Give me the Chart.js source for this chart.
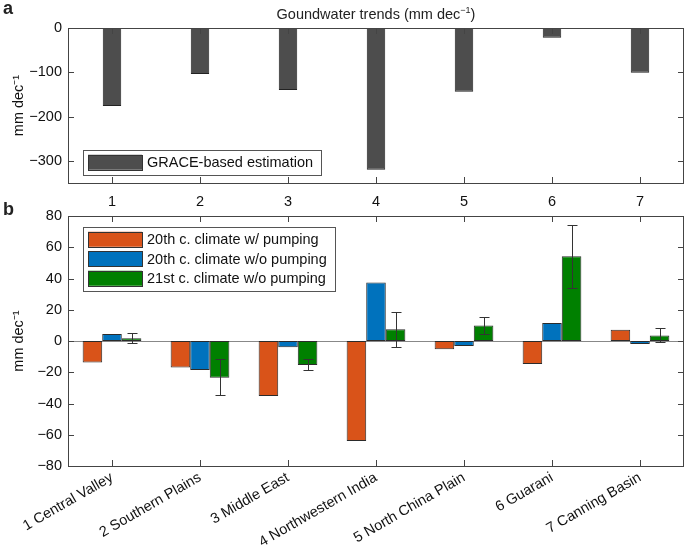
<!DOCTYPE html>
<html>
<head>
<meta charset="utf-8">
<script src="https://cdn.jsdelivr.net/npm/chart.js@4.4.0/dist/chart.umd.min.js"></script>
<style>
  body { margin: 0; background: #fff; }
  #wrap { position: relative; width: 685px; height: 545px; background: #fff; font-family: "Liberation Sans", Arial, sans-serif; color: #222; }
  canvas { position: absolute; left: 0; }
  .tag { position: absolute; font-weight: bold; font-size: 18px; left: 3px; }
  #title { position: absolute; top: 5px; left: 276px; width: 200px; text-align: center; font-size: 14.5px; white-space: nowrap; }
</style>
</head>
<body>
<div id="wrap">
  <canvas id="chart-a" width="685" height="215" style="top:0"></canvas>
  <canvas id="chart-b" width="685" height="355" style="top:190px"></canvas>
  <div class="tag" style="top:-2px">a</div>
  <div class="tag" style="top:199px">b</div>
  <div id="title">Goundwater trends (mm dec<sup style="font-size:9px">−1</sup>)</div>
</div>
<script>
// -------- DATA -------- //
const regions = ["1 Central Valley", "2 Southern Plains", "3 Middle East", "4 Northwestern India",
  "5 North China Plain", "6 Guarani", "7 Canning Basin"];
const regionNums = ["1", "2", "3", "4", "5", "6", "7"];

const grace = [-176, -104, -140, -320, -144, -22, -101];

const withPumping20 = [-13.7, -16.9, -35.2, -64, -5.3, -14.7, 7.2];
const noPumping20 = [4.5, -18.6, -4, 37.5, -3.2, 11.5, -1.9];
const noPumping21 = [1.7, -23.5, -15.4, 7.5, 10, 54.2, 3.6];
const errHigh21 = [5.3, -11.7, -11.7, 18.4, 15.6, 74.4, 8.1];
const errLow21 = [-1.5, -34.8, -18.8, -3.6, 4.5, 34.1, -0.8];

const yTicksA = [-300, -200, -100, 0];
const yTicksB = [-80, -60, -40, -20, 0, 20, 40, 60, 80];

const FONT = { family: "'Liberation Sans', Arial, sans-serif", size: 14.5 };
const minus = v => String(v).replace('-', '\u2212');

// -------- PLUGINS -------- //
// box round the plot area, with inward tick marks on all four sides
const frame = {
  id: 'frame',
  beforeDatasetsDraw(chart, args, opts) {
    if (!opts.baseline) return;
    const ctx = chart.ctx, a = chart.chartArea;
    const y0 = chart.scales.y.getPixelForValue(0);
    ctx.save();
    ctx.strokeStyle = '#888';
    ctx.lineWidth = 1;
    ctx.beginPath();
    ctx.moveTo(a.left, Math.round(y0) + 0.5);
    ctx.lineTo(a.right, Math.round(y0) + 0.5);
    ctx.stroke();
    ctx.restore();
  },
  afterDatasetsDraw(chart) {
    const ctx = chart.ctx, a = chart.chartArea;
    const xs = chart.scales.x, ys = chart.scales.y;
    const len = 6;
    ctx.save();
    ctx.strokeStyle = '#444';
    ctx.lineWidth = 1;
    ctx.beginPath();
    xs.ticks.forEach((t, i) => {
      const x = Math.round(xs.getPixelForTick(i)) + 0.5;
      ctx.moveTo(x, a.bottom); ctx.lineTo(x, a.bottom - len);
      ctx.moveTo(x, a.top); ctx.lineTo(x, a.top + len);
    });
    ys.ticks.forEach((t, i) => {
      const y = Math.round(ys.getPixelForTick(i)) + 0.5;
      ctx.moveTo(a.left, y); ctx.lineTo(a.left + len, y);
      ctx.moveTo(a.right, y); ctx.lineTo(a.right - len, y);
    });
    ctx.stroke();
    ctx.strokeRect(Math.round(a.left) + 0.5, Math.round(a.top) + 0.5,
      Math.round(a.right - a.left) - 1, Math.round(a.bottom - a.top));
    ctx.restore();
  }
};

// error bars on one dataset
const errorBars = {
  id: 'errorBars',
  afterDatasetsDraw(chart, args, opts) {
    if (!opts.low) return;
    const ctx = chart.ctx, ys = chart.scales.y;
    const meta = chart.getDatasetMeta(opts.dataset);
    ctx.save();
    ctx.strokeStyle = '#333';
    ctx.lineWidth = 1;
    ctx.beginPath();
    meta.data.forEach((bar, i) => {
      const x = Math.round(bar.x) + 0.5;
      const yh = Math.round(ys.getPixelForValue(opts.high[i])) + 0.5;
      const yl = Math.round(ys.getPixelForValue(opts.low[i])) + 0.5;
      ctx.moveTo(x, yh); ctx.lineTo(x, yl);
      ctx.moveTo(x - 5, yh); ctx.lineTo(x + 5, yh);
      ctx.moveTo(x - 5, yl); ctx.lineTo(x + 5, yl);
    });
    ctx.stroke();
    ctx.restore();
  }
};

// legend box drawn inside the plot area
const boxLegend = {
  id: 'boxLegend',
  afterDraw(chart, args, opts) {
    const ctx = chart.ctx, a = chart.chartArea;
    const sets = chart.data.datasets;
    ctx.save();
    ctx.font = FONT.size + 'px ' + FONT.family;
    const tw = Math.max(...sets.map(d => ctx.measureText(d.label).width));
    const x = a.left + opts.x, y = a.top + opts.y;
    const rowH = 19.5;
    const w = 64 + tw + 8, h = sets.length * rowH + 5;
    ctx.fillStyle = '#fff';
    ctx.fillRect(x, y, w, h);
    ctx.strokeStyle = '#555';
    ctx.lineWidth = 1;
    ctx.strokeRect(Math.round(x) + 0.5, Math.round(y) + 0.5, Math.round(w), Math.round(h));
    sets.forEach((d, i) => {
      const cy = y + 2.5 + rowH * (i + 0.5);
      ctx.fillStyle = d.backgroundColor;
      ctx.fillRect(x + 5, cy - 7.5, 54, 15);
      ctx.strokeStyle = '#333';
      ctx.strokeRect(Math.round(x + 5) + 0.5, Math.round(cy - 7.5) + 0.5, 54, 15);
      ctx.fillStyle = '#111';
      ctx.textBaseline = 'middle';
      ctx.fillText(d.label, x + 64, cy + 1);
    });
    ctx.restore();
  }
};

Chart.register(frame, errorBars, boxLegend);

function yScale(min, max, ticks) {
  return {
    min: min,
    max: max,
    border: { display: false },
    grid: { display: false, drawTicks: false },
    afterBuildTicks: s => { s.ticks = ticks.map(v => ({ value: v })); },
    afterFit: s => { s.width = 68; },
    ticks: { font: FONT, color: '#111', padding: 6, callback: minus },
    title: { display: true, text: 'mm dec\u207B\u00B9', font: FONT, color: '#111', padding: { top: 10, bottom: 0 } }
  };
}

// -------- PANEL A -------- //
new Chart(document.getElementById('chart-a'), {
  type: 'bar',
  data: {
    labels: regionNums,
    datasets: [{
      label: 'GRACE-based estimation',
      data: grace,
      backgroundColor: '#4d4d4d',
      borderColor: '#222',
      borderWidth: 1,
      borderSkipped: false,
      barPercentage: 0.21,
      categoryPercentage: 1
    }]
  },
  options: {
    responsive: false,
    animation: false,
    layout: { padding: { top: 28, right: 1, left: 0, bottom: 0 } },
    scales: {
      x: {
        border: { display: false },
        grid: { display: false, drawTicks: false },
        afterFit: s => { s.height = 32; },
        ticks: { font: FONT, color: '#111', padding: 10, maxRotation: 0 }
      },
      y: yScale(-350, 0, yTicksA)
    },
    plugins: {
      legend: { display: false },
      tooltip: { enabled: false },
      boxLegend: { x: 15, y: 122 }
    }
  }
});

// -------- PANEL B -------- //
new Chart(document.getElementById('chart-b'), {
  type: 'bar',
  data: {
    labels: regions,
    datasets: [
      { label: '20th c. climate w/ pumping', data: withPumping20, backgroundColor: '#D95319' },
      { label: '20th c. climate w/o pumping', data: noPumping20, backgroundColor: '#0072BD' },
      { label: '21st c. climate w/o pumping', data: noPumping21, backgroundColor: '#008000' }
    ].map(d => Object.assign(d, {
      borderColor: '#2b2b2b', borderWidth: 1, borderSkipped: false,
      barPercentage: 1, categoryPercentage: 0.667
    }))
  },
  options: {
    responsive: false,
    animation: false,
    layout: { padding: { top: 26, right: 1, left: 0, bottom: 0 } },
    scales: {
      x: {
        border: { display: false },
        grid: { display: false, drawTicks: false },
        afterFit: s => { s.height = 79; },
        ticks: { font: FONT, color: '#111', padding: 3, minRotation: 30, maxRotation: 30 }
      },
      y: yScale(-80, 80, yTicksB)
    },
    plugins: {
      legend: { display: false },
      tooltip: { enabled: false },
      frame: { baseline: true },
      errorBars: { dataset: 2, low: errLow21, high: errHigh21 },
      boxLegend: { x: 15, y: 11 }
    }
  }
});
</script>
</body>
</html>
